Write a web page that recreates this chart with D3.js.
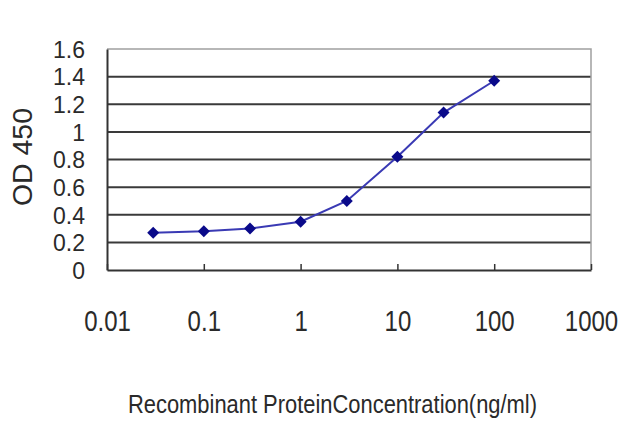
<!DOCTYPE html>
<html>
<head>
<meta charset="utf-8">
<script src="https://cdn.jsdelivr.net/npm/d3@7"></script>
<style>
  body { margin: 0; background: #fff; }
  text { font-family: "Liberation Sans", Arial, sans-serif; fill: #2a2a2a; }
</style>
</head>
<body>
<div id="chart"></div>
<script>
// concentrations (ng/ml) and OD450 readings
var conc = [0.03, 0.1, 0.3, 1, 3, 10, 30, 100];
var od = [0.27, 0.28, 0.30, 0.35, 0.50, 0.82, 1.14, 1.37];
var xTicks = [0.01, 0.1, 1, 10, 100, 1000];
var yTicks = [0, 0.2, 0.4, 0.6, 0.8, 1, 1.2, 1.4, 1.6];

function draw() {
    var w = 640, h = 427;
    var left = 107, right = 591, top = 49, bottom = 270;

    var svg = d3.select("#chart").append("svg")
        .attr("width", w)
        .attr("height", h);

    var x = d3.scaleLog().domain([0.01, 1000]).range([left, right]);
    var y = d3.scaleLinear().domain([0, 1.6]).range([bottom, top]);

    // horizontal grid lines
    svg.selectAll(".grid")
        .data(yTicks.filter(function(d) { return d > 0 && d < 1.6; }))
        .enter().append("line")
        .attr("x1", left).attr("x2", right)
        .attr("y1", function(d) { return y(d); })
        .attr("y2", function(d) { return y(d); })
        .attr("stroke", "#3a3a3a")
        .attr("stroke-width", 2);

    // top and right border, lighter
    svg.append("path")
        .attr("d", "M" + left + "," + y(1.6) + "H" + right + "V" + bottom)
        .attr("fill", "none")
        .attr("stroke", "#a0a0a0")
        .attr("stroke-width", 1.5);

    // x axis with inside ticks
    var xAxis = svg.append("g")
        .attr("transform", "translate(0," + bottom + ")")
        .call(d3.axisBottom(x).tickValues(xTicks).tickSizeInner(-6).tickSizeOuter(0)
              .tickFormat(function(d) { return d >= 1 ? d3.format("d")(d) : String(d); }));
    xAxis.select(".domain").attr("stroke", "#333").attr("stroke-width", 2);
    xAxis.selectAll(".tick line").attr("stroke", "#333").attr("stroke-width", 1.5);
    xAxis.selectAll("text")
        .attr("y", 0).attr("dy", null)
        .attr("transform", "translate(0,61) scale(1,1.22)")
        .style("font-size", "24px")
        .attr("fill", "#2a2a2a");

    // y axis
    var yAxis = svg.append("g")
        .attr("transform", "translate(" + left + ",0)")
        .call(d3.axisLeft(y).tickValues(yTicks).tickSize(0).tickPadding(22)
              .tickFormat(function(d) { return String(d); }));
    yAxis.select(".domain").attr("stroke", "#333").attr("stroke-width", 2);
    yAxis.selectAll("text")
        .style("font-size", "23px")
        .attr("dy", "0.36em")
        .attr("fill", "#2a2a2a");

    // axis titles
    svg.append("text")
        .attr("transform", "translate(32,157) rotate(-90)")
        .attr("text-anchor", "middle")
        .attr("textLength", 98)
        .attr("lengthAdjust", "spacingAndGlyphs")
        .style("font-size", "27px")
        .text("OD 450");

    svg.append("text")
        .attr("transform", "translate(128,413) scale(1,1.2)")
        .attr("textLength", 409)
        .attr("lengthAdjust", "spacingAndGlyphs")
        .style("font-size", "22px")
        .text("Recombinant ProteinConcentration(ng/ml)");

    // data line and markers
    var pts = conc.map(function(c, i) { return { c: c, v: od[i] }; });
    var line = d3.line()
        .x(function(d) { return x(d.c); })
        .y(function(d) { return y(d.v); });
    svg.append("path")
        .datum(pts)
        .attr("d", line)
        .attr("fill", "none")
        .attr("stroke", "#3a3ab4")
        .attr("stroke-width", 2);

    svg.selectAll(".pt")
        .data(pts)
        .enter().append("path")
        .attr("class", "pt")
        .attr("d", d3.symbol().type(d3.symbolSquare).size(72))
        .attr("transform", function(d) { return "translate(" + x(d.c) + "," + y(d.v) + ") rotate(45)"; })
        .attr("fill", "#0a0a8a");
}

draw();
</script>
</body>
</html>
